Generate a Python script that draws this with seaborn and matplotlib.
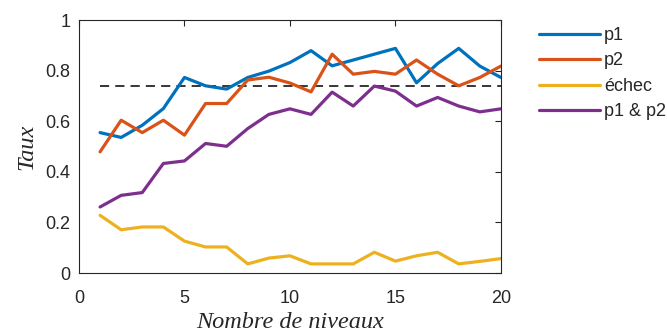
import numpy as np
import pandas as pd
import matplotlib
matplotlib.use("Agg")
import matplotlib.pyplot as plt
import seaborn as sns

niveaux = list(range(1, 21))
p1 = [0.555, 0.536, 0.584, 0.650, 0.773, 0.740, 0.727, 0.773, 0.798, 0.832,
      0.879, 0.819, 0.842, 0.865, 0.888, 0.752, 0.828, 0.888, 0.818, 0.773]
p2 = [0.479, 0.604, 0.555, 0.604, 0.545, 0.670, 0.670, 0.763, 0.774, 0.751,
      0.716, 0.865, 0.786, 0.797, 0.786, 0.842, 0.786, 0.740, 0.773, 0.818]
echec = [0.228, 0.171, 0.182, 0.182, 0.126, 0.103, 0.103, 0.036, 0.059, 0.068,
         0.036, 0.036, 0.036, 0.082, 0.047, 0.068, 0.082, 0.036, 0.046, 0.057]
p1_p2 = [0.261, 0.307, 0.318, 0.433, 0.443, 0.512, 0.501, 0.571, 0.627, 0.649,
         0.627, 0.715, 0.660, 0.739, 0.719, 0.660, 0.694, 0.660, 0.637, 0.649]
seuil = 0.74

series_names = ["p1", "p2", "échec", "p1 & p2"]
colors = ["#0072BD", "#D95319", "#EDB120", "#7E2F8E"]

df = pd.DataFrame({
    "niveaux": niveaux * 4,
    "taux": p1 + p2 + echec + p1_p2,
    "serie": sum([[n] * len(niveaux) for n in series_names], []),
})

sns.set_theme(style="white")
plt.rcParams["font.family"] = ["Liberation Sans", "DejaVu Sans"]

fig = plt.figure(figsize=(6.67, 3.34), dpi=100)
ax = fig.add_axes([0.1184, 0.1826, 0.6326, 0.7574])

sns.lineplot(data=df, x="niveaux", y="taux", hue="serie", hue_order=series_names,
             palette=colors, linewidth=2.3, ax=ax, legend=True)

ax.plot([niveaux[0], niveaux[-1]], [seuil, seuil], color="black",
        linestyle=(0, (6, 4)), linewidth=1.1, zorder=1)

ax.set_xlim(0, 20)
ax.set_ylim(0, 1)
ax.set_xticks([0, 5, 10, 15, 20])
ax.set_yticks([0, 0.2, 0.4, 0.6, 0.8, 1])
ax.set_yticklabels(["0", "0.2", "0.4", "0.6", "0.8", "1"])
ax.tick_params(direction="in", length=4, width=0.8, colors="#262626",
               labelsize=13, top=True, right=True)
ax.tick_params(axis="x", pad=12)
ax.tick_params(axis="y", pad=6)
for s in ax.spines.values():
    s.set_color("#262626")
    s.set_linewidth(0.8)

ax.set_xlabel("Nombre de niveaux", family=["Liberation Serif"], style="italic",
              fontsize=17.5, color="#262626", labelpad=4)
ax.set_ylabel("Taux", family=["Liberation Serif"], style="italic",
              fontsize=17.5, color="#262626", labelpad=6)

handles, labels = ax.get_legend_handles_labels()
ax.legend(handles, labels, loc="upper left", bbox_to_anchor=(1.09, 0.973),
          frameon=False, fontsize=13, handlelength=3.4, handletextpad=0.2,
          labelspacing=0.47, borderaxespad=0, borderpad=0)

fig.savefig("out.png", dpi=100)
